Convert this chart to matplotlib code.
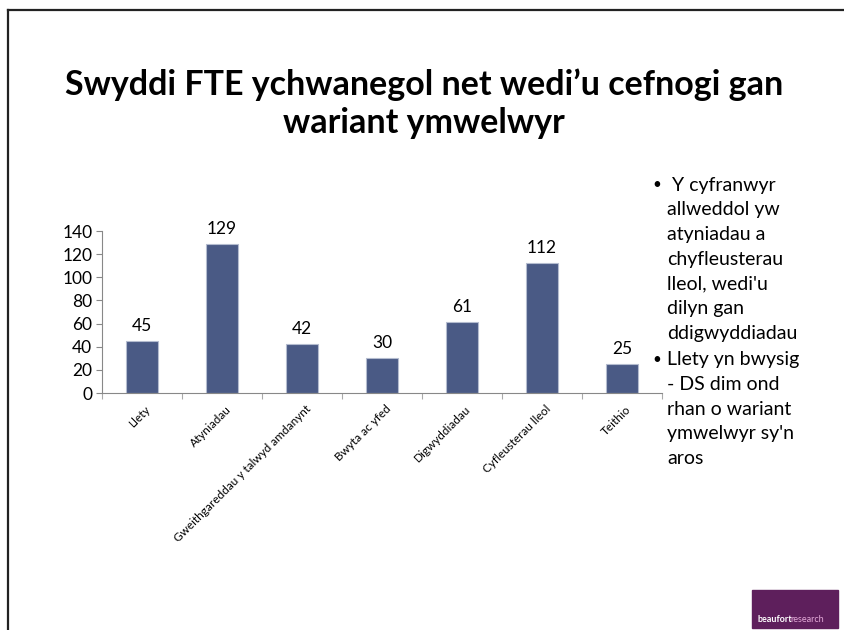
import matplotlib.pyplot as plt
from matplotlib.lines import Line2D
from matplotlib.patches import Rectangle

plt.rcParams['font.family'] = ['Lato', 'DejaVu Sans']

# data
categories = ['Llety', 'Atyniadau', 'Gweithgareddau y talwyd amdanynt', 'Bwyta ac yfed',
              'Digwyddiadau', 'Cyfleusterau lleol', 'Teithio']
values = [45, 129, 42, 30, 61, 112, 25]
yticks = [0, 20, 40, 60, 80, 100, 120, 140]

title = 'Swyddi FTE ychwanegol net wedi\u2019u cefnogi gan\nwariant ymwelwyr'
bullet1 = [' Y cyfranwyr', 'allweddol yw', 'atyniadau a', 'chyfleusterau',
           "lleol, wedi'u", 'dilyn gan', 'ddigwyddiadau']
bullet2 = ['Llety yn bwysig', '- DS dim ond', 'rhan o wariant',
           "ymwelwyr sy'n", 'aros']

W, H = 844, 630
fig = plt.figure(figsize=(W / 100, H / 100), dpi=100)

# slide border (left + top)
fig.add_artist(Line2D([8 / W, 8 / W], [0, 1 - 10 / H], color='#222222', lw=1.6))
fig.add_artist(Line2D([8 / W, 1], [1 - 10 / H, 1 - 10 / H], color='#222222', lw=1.6))

fig.text(424 / W, 1 - 104 / H, title, ha='center', va='center', fontsize=24.5,
         fontweight='bold', linespacing=1.22)

ax = fig.add_axes([102 / W, 1 - 393 / H, 560 / W, 162 / H])
x = range(len(categories))
bars = ax.bar(x, values, width=0.39, color='#4a5a85', edgecolor='#b4bccf', linewidth=0.8)
for xi, v in zip(x, values):
    ax.text(xi, v + 6, str(v), ha='center', va='bottom', fontsize=12.5)

ax.set_xlim(-0.5, len(categories) - 0.5)
ax.set_ylim(0, 140)
ax.set_yticks(yticks)
ax.tick_params(axis='y', labelsize=12.5, length=4, color='#888888', pad=3)
ax.set_xticks([i + 0.5 for i in range(-1, len(categories))])
ax.set_xticklabels([])
ax.tick_params(axis='x', length=4, color='#aaaaaa', direction='out')
for xi, lab in zip(x, categories):
    ax.text(xi + 0.04, -9, lab, rotation=45, ha='right', va='top',
            rotation_mode='anchor', fontsize=8.5)
for s in ['top', 'right']:
    ax.spines[s].set_visible(False)
ax.spines['left'].set_color('#888888')
ax.spines['bottom'].set_color('#888888')

# bullet text
step = 24.7
y0 = 185
for i, line in enumerate(bullet1):
    fig.text(667 / W, 1 - (y0 + i * step) / H, line, ha='left', va='center', fontsize=14)
fig.text(652 / W, 1 - y0 / H, '\u2022', ha='left', va='center', fontsize=11)
y1 = y0 + 7 * step + 2
for i, line in enumerate(bullet2):
    fig.text(667 / W, 1 - (y1 + i * step) / H, line, ha='left', va='center', fontsize=14)
fig.text(652 / W, 1 - y1 / H, '\u2022', ha='left', va='center', fontsize=11)

# logo
fig.add_artist(Rectangle((752 / W, 1 - 628 / H), 86 / W, 38 / H, transform=fig.transFigure,
                         color='#5e1f5c'))
t1 = fig.text(757 / W, 1 - 619 / H, 'beaufort', color='white', fontsize=6.5,
              fontweight='bold', va='center')
fig.canvas.draw()
bb = t1.get_window_extent()
fig.text((bb.x1 - 1.5) / W, 1 - 619 / H, 'research', color='#e3a9d8', fontsize=6.5,
         va='center')

fig.savefig('out.png', dpi=100)
